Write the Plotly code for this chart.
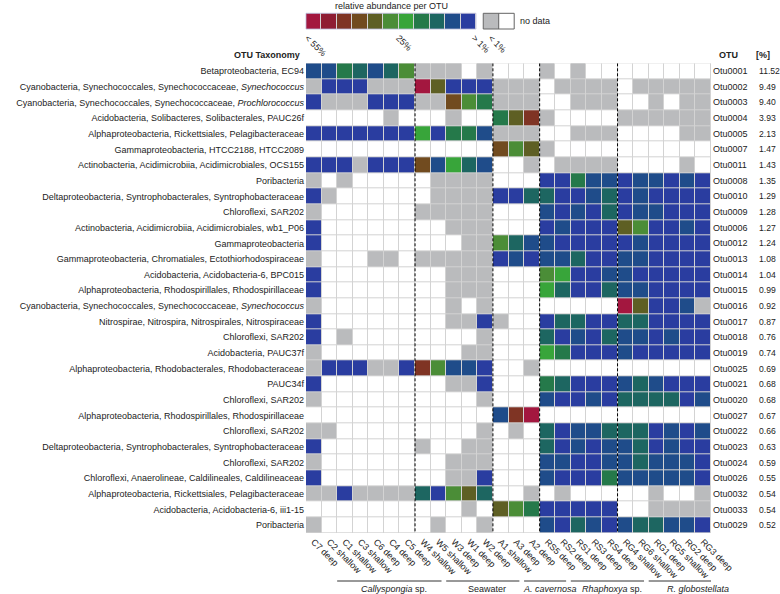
import plotly.graph_objects as go

# ---------------- data ----------------
samples = ["C7 deep", "C2 shallow", "C1 shallow", "C3 shallow", "C6 deep", "C4 deep", "C5 deep",
           "W4 shallow", "W5 shallow", "W3 deep", "W1 deep", "W2 deep",
           "A1 shallow", "A3 deep", "A2 deep",
           "RS5 deep", "RS2 deep", "RS1 deep", "RS3 deep", "RS4 deep",
           "RG4 shallow", "RG6 shallow", "RG1 deep", "RG5 shallow", "RG2 deep", "RG3 deep"]
groups = ["<i>Callyspongia</i> sp.", "Seawater", "<i>A. cavernosa</i>",
          "<i>Rhaphoxya</i> sp.", "<i>R. globostellata</i>"]
group_sizes = [7, 5, 3, 5, 6]

taxonomy = [
    "Betaproteobacteria, EC94",
    "Cyanobacteria, Synechococcales, Synechococcaceae, <i>Synechococcus</i>",
    "Cyanobacteria, Synechococcales, Synechococcaceae, <i>Prochlorococcus</i>",
    "Acidobacteria, Solibacteres, Solibacterales, PAUC26f",
    "Alphaproteobacteria, Rickettsiales, Pelagibacteraceae",
    "Gammaproteobacteria, HTCC2188, HTCC2089",
    "Actinobacteria, Acidimicrobiia, Acidimicrobiales, OCS155",
    "Poribacteria",
    "Deltaproteobacteria, Syntrophobacterales, Syntrophobacteraceae",
    "Chloroflexi, SAR202",
    "Actinobacteria, Acidimicrobiia, Acidimicrobiales, wb1_P06",
    "Gammaproteobacteria",
    "Gammaproteobacteria, Chromatiales, Ectothiorhodospiraceae",
    "Acidobacteria, Acidobacteria-6, BPC015",
    "Alphaproteobacteria, Rhodospirillales, Rhodospirillaceae",
    "Cyanobacteria, Synechococcales, Synechococcaceae, <i>Synechococcus</i>",
    "Nitrospirae, Nitrospira, Nitrospirales, Nitrospiraceae",
    "Chloroflexi, SAR202",
    "Acidobacteria, PAUC37f",
    "Alphaproteobacteria, Rhodobacterales, Rhodobacteraceae",
    "PAUC34f",
    "Chloroflexi, SAR202",
    "Alphaproteobacteria, Rhodospirillales, Rhodospirillaceae",
    "Chloroflexi, SAR202",
    "Deltaproteobacteria, Syntrophobacterales, Syntrophobacteraceae",
    "Chloroflexi, SAR202",
    "Chloroflexi, Anaerolineae, Caldilineales, Caldilineaceae",
    "Alphaproteobacteria, Rickettsiales, Pelagibacteraceae",
    "Acidobacteria, Acidobacteria-6, iii1-15",
    "Poribacteria",
]
otu_ids = ["Otu0001", "Otu0002", "Otu0003", "Otu0004", "Otu0005", "Otu0007", "Otu0011",
           "Otu0008", "Otu0010", "Otu0009", "Otu0006", "Otu0012", "Otu0013", "Otu0014",
           "Otu0015", "Otu0016", "Otu0017", "Otu0018", "Otu0019", "Otu0025", "Otu0021",
           "Otu0020", "Otu0027", "Otu0022", "Otu0023", "Otu0024", "Otu0026", "Otu0032",
           "Otu0033", "Otu0029"]
otu_pct = ["11.52", "9.49", "9.40", "3.93", "2.13", "1.47", "1.43", "1.35", "1.29", "1.28",
           "1.27", "1.24", "1.08", "1.04", "0.99", "0.92", "0.87", "0.76", "0.74", "0.69",
           "0.68", "0.68", "0.67", "0.66", "0.63", "0.59", "0.55", "0.54", "0.54", "0.52"]

# cell codes: '.' no data, '-' < 1%, '1'..'9','A','B' = abundance bins (> 1% ... < 55%)
cells = [
    "2243236 ---.- ... -.-.. ......",
    "-111--- B7111 --- .---- .-----",
    "1---111 --864 --- ..--- ..-.--",
    ".....-. ..-.. 479 -.... ------",
    "1111111 51442 --- ..--- ....--",
    "....... ..... 867 -.... ......",
    "111-111 82532 ..- .---- ....-.",
    "-.-.... .---- ... 11422 122121",
    "1-..... .---- 113 31123 121111",
    "-...... ----- ... 21213 122111",
    "1...... ..--- ... 12111 761121",
    "1...... ...-- 632 21111 121111",
    "-...--. ----- 121 22311 221111",
    "1...... ..--- ... 65112 211111",
    "1...... ..--- ... 53113 221111",
    "-...... ..-.- ... ..... B7112-",
    "1...... ..--1 -.. 13311 331111",
    "1.-.... ....- ... 31213 221211",
    "-...... ...-- ... 54111 211111",
    "-111--1 96221 ..- ..... ......",
    "1...... ..--1 ... 43111 232111",
    "-...... ....- ... 21121 333312",
    "....... ..... 29B ..... ......",
    "--..... ....- .-. 31223 331212",
    "1...... -..-- ... 31212 231211",
    "-...... ..--- ... 22112 232221",
    "1...... ..--1 ... 21114 222221",
    "--1---- 31673 ..- .-... ..-..-",
    "....... ...-. 764 11111 ..----",
    "-...... .-..- ... 21321 233221",
]
legend_labels = ["< 55%", "25%", "> 1%"]

# ---------------- styles ----------------
palette = ["#ffffff", "#babbbd",
           "#2a3da0", "#1f4c8a", "#1d6661", "#25794a", "#38a53a", "#4b8d37",
           "#5e5f24", "#714b1f", "#7f3424", "#8f1d33", "#a3173f"]
n = len(palette)
cscale = []
for k, c in enumerate(palette):
    cscale.append([k / n, c])
    cscale.append([(k + 1) / n, c])

code_map = {".": 0, "-": 1}
for i, ch in enumerate("123456789AB"):
    code_map[ch] = i + 2

z = []
for row in cells:
    s = row.replace(" ", "")
    assert len(s) == len(samples), (row, len(s))
    z.append([code_map[ch] for ch in s])

FONT = "Liberation Sans, Arial, Helvetica, sans-serif"
TXT = "#222222"
FS = 9

nrow, ncol = len(taxonomy), len(samples)
fig = go.Figure()
fig.add_trace(go.Heatmap(
    z=z, x=list(range(ncol)), y=list(range(nrow)),
    colorscale=cscale, zmin=-0.5, zmax=n - 0.5, showscale=False,
    xgap=1, ygap=1, hoverinfo="skip", xaxis="x", yaxis="y"))

# legend colour bar (bins from < 55% to > 1%)
fig.add_trace(go.Heatmap(
    z=[list(range(n - 1, 1, -1))], x=list(range(n - 2)), y=[0],
    colorscale=cscale, zmin=-0.5, zmax=n - 0.5, showscale=False,
    xgap=1, ygap=0, hoverinfo="skip", xaxis="x2", yaxis="y2"))
# legend < 1% / no data boxes
fig.add_trace(go.Heatmap(
    z=[[1, 0]], x=[0, 1], y=[0],
    colorscale=cscale, zmin=-0.5, zmax=n - 0.5, showscale=False,
    hoverinfo="skip", xaxis="x3", yaxis="y3"))

# ---------------- geometry ----------------
W, H = 780, 594
L, R, T, B = 305.7, 68.5, 13, 61
pw, ph = W - L - R, H - T - B
def px_y(py):
    return (H - B - py) / ph
def px_x(px):
    return (px - L) / pw

main_top = px_y(63.3)
leg_y = [px_y(29.0), px_y(13.3)]

axis_common = dict(showgrid=False, zeroline=False, showline=False, ticks="",
                   automargin=False, tickfont=dict(family=FONT, size=FS, color=TXT))

fig.update_layout(
    width=W, height=H,
    margin=dict(l=L, r=R, t=T, b=B, autoexpand=False),
    plot_bgcolor="#d3d3d3", paper_bgcolor="white", showlegend=False,
    font=dict(family=FONT, size=FS, color=TXT),
    xaxis=dict(domain=[0, 1], anchor="y", range=[-0.5, ncol - 0.5],
               tickmode="array", tickvals=list(range(ncol)), ticktext=samples,
               tickangle=45, ticklabelstandoff=1, **axis_common),
    yaxis=dict(domain=[0, main_top], anchor="x", range=[nrow - 0.5, -0.5],
               tickmode="array", tickvals=list(range(nrow)), ticktext=taxonomy,
               ticklabelstandoff=1, **axis_common),
    xaxis2=dict(domain=[0, px_x(476)], anchor="y2", range=[-0.5, n - 2.5],
                tickmode="array", tickvals=[-0.4, 5.5, 10.4], ticktext=legend_labels,
                tickangle=45, ticklabelstandoff=1, **axis_common),
    yaxis2=dict(domain=leg_y, anchor="x2", range=[-0.5, 0.5], showticklabels=False,
                **axis_common),
    xaxis3=dict(domain=[px_x(483.3), px_x(514.3)], anchor="y3", range=[-0.5, 1.5],
                tickmode="array", tickvals=[0], ticktext=["< 1%"],
                tickangle=45, ticklabelstandoff=1, **axis_common),
    yaxis3=dict(domain=leg_y, anchor="x3", range=[-0.5, 0.5], showticklabels=False,
                **axis_common),
)

shapes = []
# dashed separators between sample groups
edge = -0.5
bounds = []
for s in group_sizes:
    bounds.append((edge, edge + s))
    edge += s
for (a, b) in bounds[:-1]:
    shapes.append(dict(type="line", xref="x", yref="y", x0=b, x1=b, y0=-0.5, y1=nrow - 0.5,
                       line=dict(color="black", width=1, dash="3px,2px")))
# group underline + labels
annotations = []
for (a, b), g in zip(bounds, groups):
    x0, x1 = a + 2.0, b + 1.7
    shapes.append(dict(type="line", xref="x", yref="paper", x0=x0, x1=x1,
                       y0=px_y(581), y1=px_y(581), line=dict(color="#333333", width=1)))
    annotations.append(dict(x=(x0 + x1) / 2 + 0.3, y=px_y(588.5), xref="x", yref="paper",
                            text=g, showarrow=False, xanchor="center", yanchor="middle",
                            font=dict(family=FONT, size=FS, color=TXT)))
# legend box borders
shapes.append(dict(type="rect", xref="x3 domain", yref="y3 domain", x0=0, x1=1, y0=0, y1=1,
                   line=dict(color="#666666", width=1)))
shapes.append(dict(type="line", xref="x3", yref="y3 domain", x0=0.5, x1=0.5, y0=0, y1=1,
                   line=dict(color="#666666", width=1)))
shapes.append(dict(type="rect", xref="x2 domain", yref="y2 domain", x0=0, x1=1, y0=0, y1=1,
                   line=dict(color="#b8b8d8", width=0.8)))

# right-hand OTU ids and percentages
for i in range(nrow):
    annotations.append(dict(x=px_x(711.5), y=i, xref="paper", yref="y", text=otu_ids[i],
                            showarrow=False, xanchor="left", yanchor="middle",
                            font=dict(family=FONT, size=FS, color=TXT)))
    annotations.append(dict(x=px_x(757.5), y=i, xref="paper", yref="y", text=otu_pct[i],
                            showarrow=False, xanchor="left", yanchor="middle",
                            font=dict(family=FONT, size=8.6, color=TXT)))

# headers
annotations += [
    dict(x=px_x(302), y=px_y(55), xref="paper", yref="paper", text="<b>OTU Taxonomy</b>",
         showarrow=False, xanchor="right", yanchor="middle",
         font=dict(family=FONT, size=9, color=TXT)),
    dict(x=px_x(729), y=px_y(55), xref="paper", yref="paper", text="<b>OTU</b>",
         showarrow=False, xanchor="center", yanchor="middle",
         font=dict(family=FONT, size=9, color=TXT)),
    dict(x=px_x(755), y=px_y(55), xref="paper", yref="paper", text="<b>[%]</b>",
         showarrow=False, xanchor="left", yanchor="middle",
         font=dict(family=FONT, size=9, color=TXT)),
    dict(x=px_x(391), y=px_y(6), xref="paper", yref="paper", text="relative abundance per OTU",
         showarrow=False, xanchor="center", yanchor="middle",
         font=dict(family=FONT, size=9, color=TXT)),
    dict(x=px_x(518), y=px_y(21), xref="paper", yref="paper", text="no data",
         showarrow=False, xanchor="left", yanchor="middle",
         font=dict(family=FONT, size=9, color=TXT)),
]

fig.update_layout(shapes=shapes, annotations=annotations)
fig.write_html("out.html", config={"displayModeBar": False},
               post_script="document.body.style.margin='0';document.body.style.overflow='hidden';")
